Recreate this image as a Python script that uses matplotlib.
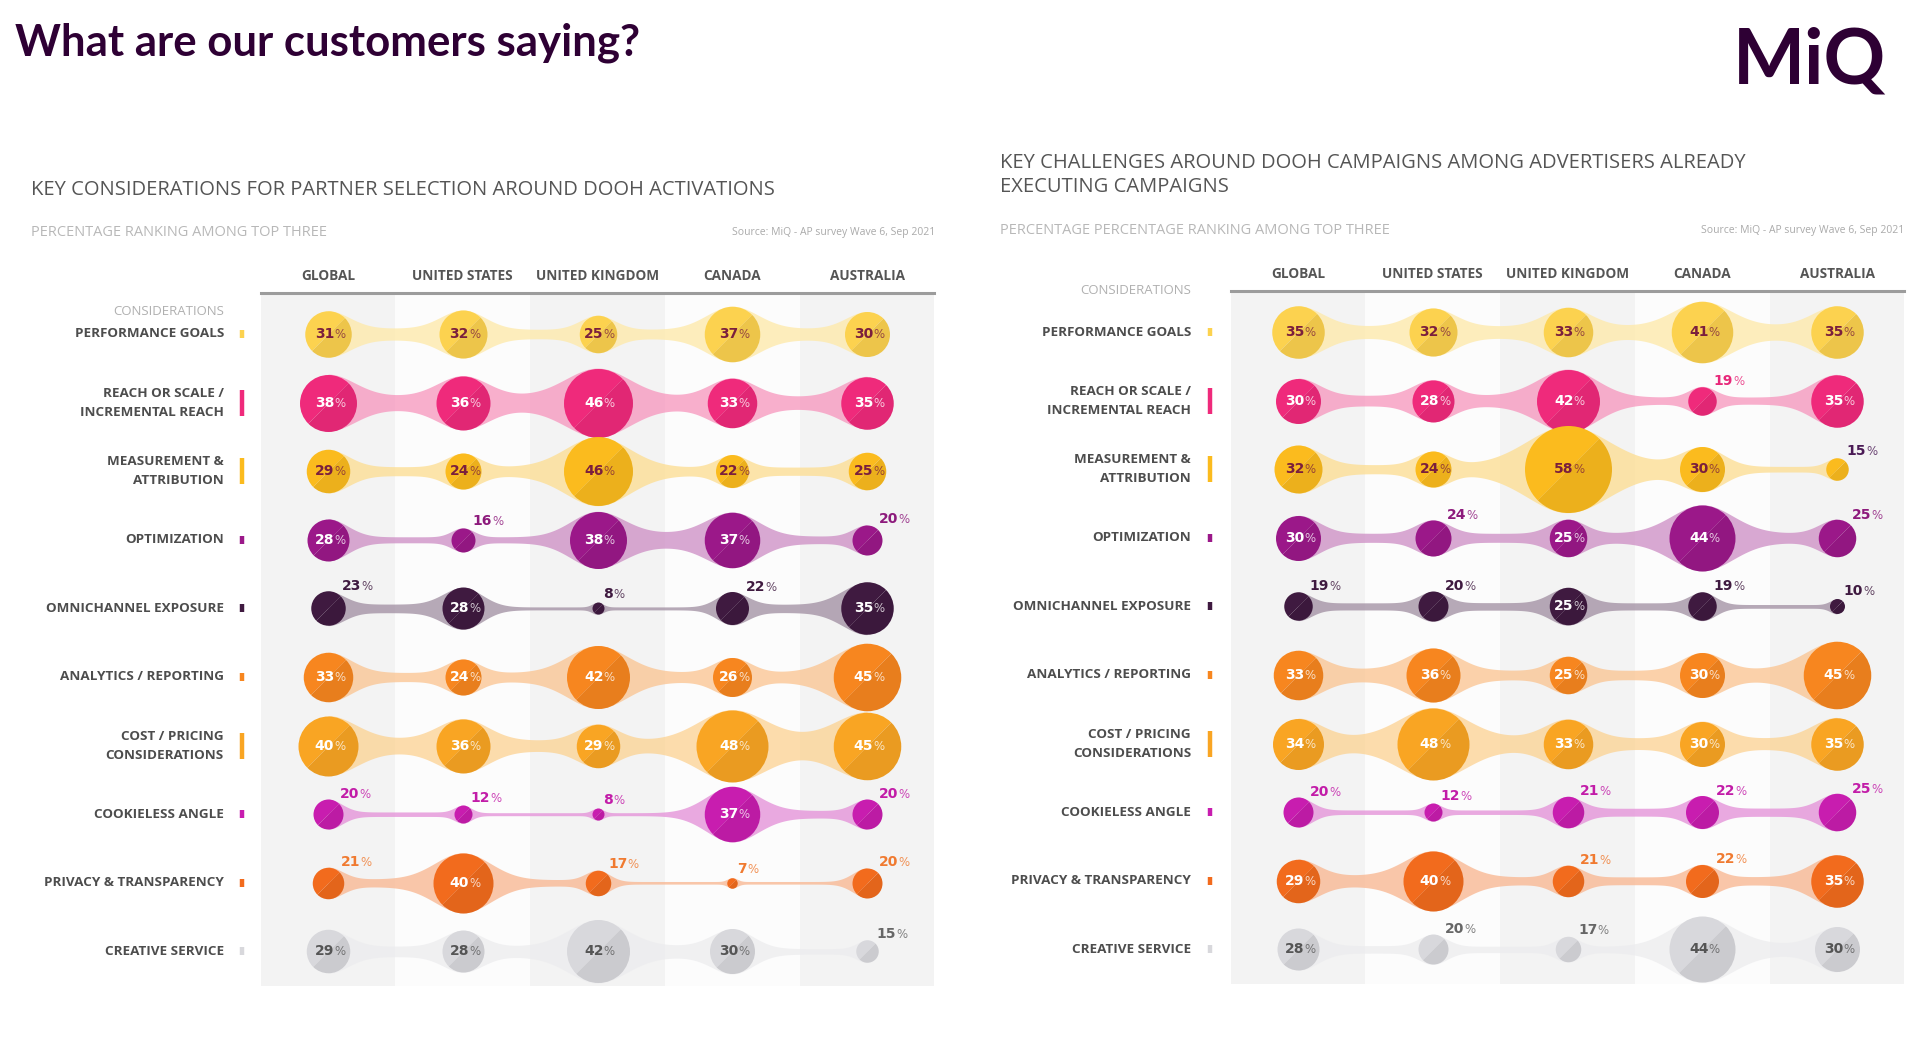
import numpy as np
import matplotlib
matplotlib.use("Agg")
import matplotlib.pyplot as plt
from matplotlib.markers import MarkerStyle
from matplotlib.transforms import Affine2D
from matplotlib.colors import to_rgb

# ---------------- data ----------------
countries = ["GLOBAL", "UNITED STATES", "UNITED KINGDOM", "CANADA", "AUSTRALIA"]
considerations = ["PERFORMANCE GOALS", "REACH OR SCALE /\nINCREMENTAL REACH",
                  "MEASUREMENT &\nATTRIBUTION", "OPTIMIZATION", "OMNICHANNEL EXPOSURE",
                  "ANALYTICS / REPORTING", "COST / PRICING\nCONSIDERATIONS",
                  "COOKIELESS ANGLE", "PRIVACY & TRANSPARENCY", "CREATIVE SERVICE"]

# Left panel: partner selection
sel_performance = [31, 32, 25, 37, 30]
sel_reach = [38, 36, 46, 33, 35]
sel_measurement = [29, 24, 46, 22, 25]
sel_optimization = [28, 16, 38, 37, 20]
sel_omnichannel = [23, 28, 8, 22, 35]
sel_analytics = [33, 24, 42, 26, 45]
sel_cost = [40, 36, 29, 48, 45]
sel_cookieless = [20, 12, 8, 37, 20]
sel_privacy = [21, 40, 17, 7, 20]
sel_creative = [29, 28, 42, 30, 15]

# Right panel: challenges
chl_performance = [35, 32, 33, 41, 35]
chl_reach = [30, 28, 42, 19, 35]
chl_measurement = [32, 24, 58, 30, 15]
chl_optimization = [30, 24, 25, 44, 25]
chl_omnichannel = [19, 20, 25, 19, 10]
chl_analytics = [33, 36, 25, 30, 45]
chl_cost = [34, 48, 33, 30, 35]
chl_cookieless = [20, 12, 21, 22, 25]
chl_privacy = [29, 40, 21, 22, 35]
chl_creative = [28, 20, 17, 44, 30]

# which value labels sit outside the bubble (1 = outside)
sel_outside = [[0, 0, 0, 0, 0], [0, 0, 0, 0, 0], [0, 0, 0, 0, 0], [0, 1, 0, 0, 1],
               [1, 0, 1, 1, 0], [0, 0, 0, 0, 0], [0, 0, 0, 0, 0], [1, 1, 1, 0, 1],
               [1, 0, 1, 1, 1], [0, 0, 0, 0, 1]]
chl_outside = [[0, 0, 0, 0, 0], [0, 0, 0, 1, 0], [0, 0, 0, 0, 1], [0, 1, 0, 0, 1],
               [1, 1, 0, 1, 1], [0, 0, 0, 0, 0], [0, 0, 0, 0, 0], [1, 1, 1, 1, 1],
               [0, 0, 1, 1, 0], [0, 1, 1, 0, 0]]

# ---------------- style ----------------
row_colors = ["#fcd24f", "#ef2a7b", "#fbbb1e", "#9b1889", "#3f1a40",
              "#f7861f", "#f9a523", "#c81daf", "#f26b1d", "#d8d8dc"]
inside_text = ["#7a1f3d", "white", "#7a1f3d", "white", "white",
               "white", "white", "white", "white", "#555555"]
outside_text = ["#7a1f3d", "#e8287a", "#4a1a55", "#8d1a7c", "#3f1a40",
                "#f08020", "#f5a020", "#c21ca8", "#f07a30", "#666666"]
two_line = [False, True, True, False, False, False, True, False, False, False]

W, H = 1920, 1041
DPI = 100
COL_PX = 134.75
ROW_PX = 68.6
PX2PT = 72.0 / DPI
D_PER_PCT = 1.5  # bubble diameter in px per percentage point

FONT = ["Open Sans", "DejaVu Sans"]
LBL_FONT = ["Liberation Sans Narrow", "DejaVu Sans"]

fig = plt.figure(figsize=(W / DPI, H / DPI), dpi=DPI)
fig.patch.set_facecolor("white")


def mix(c, w):
    r = np.array(to_rgb(c))
    return tuple(r * (1 - w) + w)


def darker(c, f):
    return tuple(np.array(to_rgb(c)) * f)


def panel(col0_px, row0_px, matrix, outside, cons_y_px, label_right_px, marker_px):
    left = col0_px - 0.5 * COL_PX
    top = row0_px - 0.6 * ROW_PX
    bottom = row0_px + 9.5 * ROW_PX
    ax = fig.add_axes([left / W, 1 - bottom / H, 5 * COL_PX / W, (bottom - top) / H])
    ax.set_xlim(-0.5, 4.5)
    ax.set_ylim(9.5, -0.6)
    ax.set_facecolor("#fcfcfc")
    for s in ["left", "right", "bottom"]:
        ax.spines[s].set_visible(False)
    ax.spines["top"].set_color("#9c9c9c")
    ax.spines["top"].set_linewidth(2.2)
    ax.set_xticks([])
    ax.set_yticks([])
    for c in (0, 2, 4):
        ax.axvspan(c - 0.5, c + 0.5, color="#f3f3f3", lw=0, zorder=0)

    # column headers
    for i, name in enumerate(countries):
        ax.text(i, -58 / ROW_PX, name,
                ha="center", va="center", fontsize=9.8, weight="bold", color="#555555",
                family=FONT, clip_on=False)

    # "CONSIDERATIONS"
    xr = -0.5 - (left - label_right_px) / COL_PX
    ax.text(xr, (cons_y_px - row0_px) / ROW_PX, "CONSIDERATIONS", ha="right", va="center",
            fontsize=9.5, color="#b0b0b0", family=FONT, clip_on=False)

    xm = -0.5 - (left - marker_px) / COL_PX
    for r, lab in enumerate(considerations):
        ax.text(xr, r, lab, ha="right", va="center", fontsize=9.7, weight="bold",
                color="#4d4d4d", family=FONT, linespacing=1.6, clip_on=False)
        hh = (13 if two_line[r] else 4) / ROW_PX
        ax.plot([xm, xm], [r - hh, r + hh], color=row_colors[r], lw=3.2,
                solid_capstyle="butt", clip_on=False)

    mk = MarkerStyle("o", fillstyle="left", transform=Affine2D().rotate_deg(-45))
    for r in range(len(considerations)):
        vals = matrix[r]
        radii = [D_PER_PCT * v / 2 for v in vals]
        neck_col = mix(row_colors[r], 0.5)
        # connecting necks
        for i in range(len(vals) - 1):
            r1, r2 = radii[i], radii[i + 1]
            hmin = 0.25 * min(r1, r2)
            d = np.linspace(0, COL_PX, 200)
            k = 1.3
            h = (hmin + (r1 - hmin) * np.exp(-(d / (k * r1)) ** 2)
                 + (r2 - hmin) * np.exp(-((COL_PX - d) / (k * r2)) ** 2))
            xs = i + d / COL_PX
            ax.fill_between(xs, r - h / ROW_PX, r + h / ROW_PX, color=neck_col,
                            lw=0, alpha=0.75, zorder=2)
        # bubbles
        for i, v in enumerate(vals):
            ax.plot(i, r, ls="none", marker=mk, ms=D_PER_PCT * v * PX2PT,
                    mfc=row_colors[r], mfcalt=darker(row_colors[r], 0.94),
                    mec="none", mew=0, zorder=3)
            if outside[r][i]:
                off = radii[i] * 0.72 * PX2PT
                t = ax.annotate(f"{v}", (i, r), xytext=(off + 1, off + 2),
                                textcoords="offset points", ha="left", va="bottom",
                                fontsize=10, weight="bold", color=outside_text[r],
                                family=LBL_FONT, zorder=5)
                ax.annotate("%", xy=(1, 0), xycoords=t, ha="left", va="bottom",
                            fontsize=8.5, color=outside_text[r], alpha=0.8,
                            family=LBL_FONT, zorder=5)
            else:
                t = ax.annotate(f"{v}", (i, r), xytext=(-2.5, 0),
                                textcoords="offset points", ha="center", va="center",
                                fontsize=10, weight="bold", color=inside_text[r],
                                family=LBL_FONT, zorder=5)
                ax.annotate("%", xy=(1, 0), xycoords=t, ha="left", va="bottom",
                            fontsize=8.5, color=inside_text[r], alpha=0.75,
                            family=LBL_FONT, zorder=5)
    return ax


sel_matrix = [sel_performance, sel_reach, sel_measurement, sel_optimization, sel_omnichannel,
              sel_analytics, sel_cost, sel_cookieless, sel_privacy, sel_creative]
chl_matrix = [chl_performance, chl_reach, chl_measurement, chl_optimization, chl_omnichannel,
              chl_analytics, chl_cost, chl_cookieless, chl_privacy, chl_creative]

panel(328, 334, sel_matrix, sel_outside, 312, 224, 242)
panel(1298, 332, chl_matrix, chl_outside, 291, 1191, 1210)

# ---------------- texts ----------------
fig.text(15 / W, 1 - 43 / H, "What are our customers saying?", ha="left", va="center",
         fontsize=31.5, weight="bold", color="#2e0034", family=["Lato", "DejaVu Sans"])
fig.text(1886 / W, 1 - 62 / H, "MiQ", ha="right", va="center", fontsize=55,
         weight="bold", color="#2e0034", family=["Lato", "DejaVu Sans"])

fig.text(31 / W, 1 - 190 / H, "KEY CONSIDERATIONS FOR PARTNER SELECTION AROUND DOOH ACTIVATIONS",
         ha="left", va="center", fontsize=14.5, color="#555555", family=FONT)
fig.text(1000 / W, 1 - 175 / H,
         "KEY CHALLENGES AROUND DOOH CAMPAIGNS AMONG ADVERTISERS ALREADY\nEXECUTING CAMPAIGNS",
         ha="left", va="center", fontsize=14.5, color="#555555", family=FONT, linespacing=1.25)

fig.text(31 / W, 1 - 233 / H, "PERCENTAGE RANKING AMONG TOP THREE", ha="left", va="center",
         fontsize=10.5, color="#b8b8b8", family=FONT)
fig.text(1000 / W, 1 - 230 / H, "PERCENTAGE PERCENTAGE RANKING AMONG TOP THREE", ha="left",
         va="center", fontsize=10.5, color="#b8b8b8", family=FONT)
fig.text(935 / W, 1 - 233 / H, "Source: MiQ - AP survey Wave 6, Sep 2021", ha="right",
         va="center", fontsize=7.5, color="#aaaaaa", family=FONT)
fig.text(1904 / W, 1 - 230 / H, "Source: MiQ - AP survey Wave 6, Sep 2021", ha="right",
         va="center", fontsize=7.5, color="#aaaaaa", family=FONT)

fig.savefig("out.png", dpi=DPI, facecolor="white")
